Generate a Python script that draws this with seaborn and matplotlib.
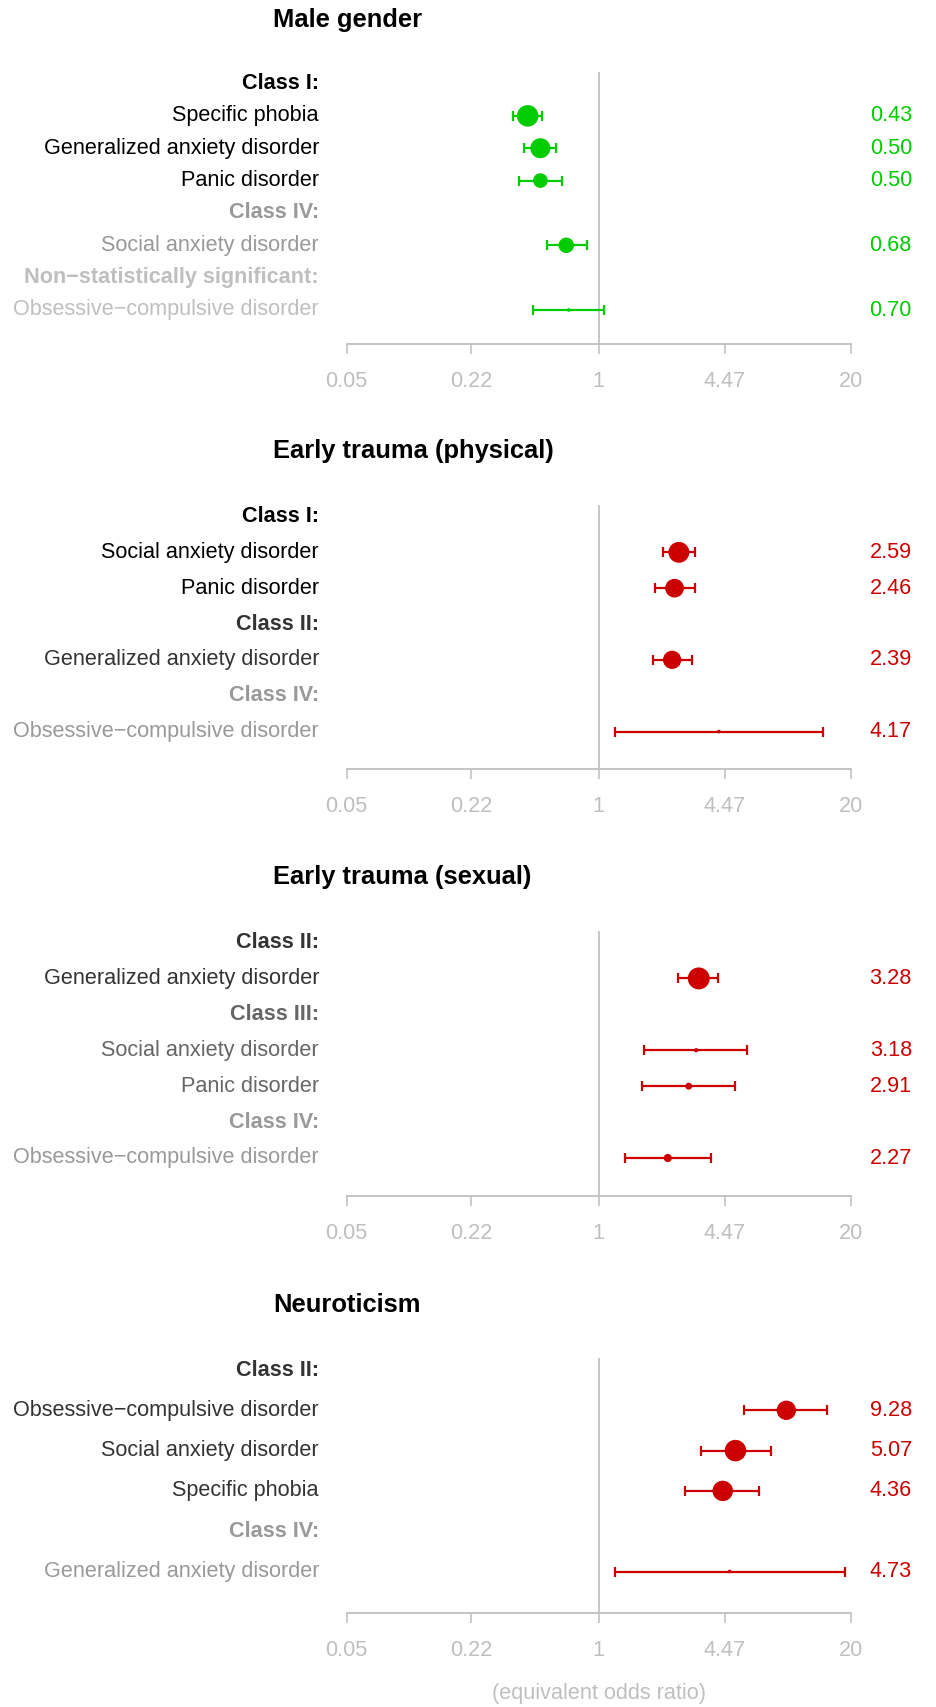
import numpy as np
import pandas as pd
import matplotlib
matplotlib.use("Agg")
import matplotlib.pyplot as plt
import matplotlib.transforms as mtransforms
import seaborn as sns

nan = np.nan

# ---------------- data ----------------
titles = ["Male gender", "Early trauma (physical)", "Early trauma (sexual)", "Neuroticism"]

male_labels = ["Class I:", "Specific phobia", "Generalized anxiety disorder", "Panic disorder",
               "Class IV:", "Social anxiety disorder", "Non\u2212statistically significant:",
               "Obsessive\u2212compulsive disorder"]
male_level = ["I", "I", "I", "I", "IV", "IV", "NS", "NS"]
male_header = [True, False, False, False, True, False, True, False]
male_or = [nan, 0.43, 0.50, 0.50, nan, 0.68, nan, 0.70]
male_lo = [nan, 0.36, 0.41, 0.39, nan, 0.54, nan, 0.46]
male_hi = [nan, 0.51, 0.60, 0.65, nan, 0.87, nan, 1.07]
male_w = [nan, 1.00, 0.93, 0.68, nan, 0.72, nan, 0.17]

phys_labels = ["Class I:", "Social anxiety disorder", "Panic disorder", "Class II:",
               "Generalized anxiety disorder", "Class IV:", "Obsessive\u2212compulsive disorder"]
phys_level = ["I", "I", "I", "II", "II", "IV", "IV"]
phys_header = [True, False, False, True, False, True, False]
phys_or = [nan, 2.59, 2.46, nan, 2.39, nan, 4.17]
phys_lo = [nan, 2.15, 1.94, nan, 1.90, nan, 1.21]
phys_hi = [nan, 3.12, 3.14, nan, 3.01, nan, 14.4]
phys_w = [nan, 0.97, 0.87, nan, 0.85, nan, 0.17]

sex_labels = ["Class II:", "Generalized anxiety disorder", "Class III:", "Social anxiety disorder",
              "Panic disorder", "Class IV:", "Obsessive\u2212compulsive disorder"]
sex_level = ["II", "II", "III", "III", "III", "IV", "IV"]
sex_header = [True, False, True, False, False, True, False]
sex_or = [nan, 3.28, nan, 3.18, 2.91, nan, 2.27]
sex_lo = [nan, 2.57, nan, 1.72, 1.67, nan, 1.37]
sex_hi = [nan, 4.14, nan, 5.82, 5.06, nan, 3.78]
sex_w = [nan, 1.02, nan, 0.20, 0.32, nan, 0.38]

neuro_labels = ["Class II:", "Obsessive\u2212compulsive disorder", "Social anxiety disorder",
                "Specific phobia", "Class IV:", "Generalized anxiety disorder"]
neuro_level = ["II", "II", "II", "II", "IV", "IV"]
neuro_header = [True, False, False, False, True, False]
neuro_or = [nan, 9.28, 5.07, 4.36, nan, 4.73]
neuro_lo = [nan, 5.62, 3.35, 2.80, nan, 1.21]
neuro_hi = [nan, 15.1, 7.69, 6.72, nan, 18.7]
neuro_w = [nan, 0.90, 1.00, 0.95, nan, 0.17]

tick_values = [0.05, 0.22, 1, 4.47, 20]
tick_labels = ["0.05", "0.22", "1", "4.47", "20"]
x_label = "(equivalent odds ratio)"

# ---------------- style ----------------
sns.set_theme(style="white")
plt.rcParams["font.family"] = ["Liberation Sans", "DejaVu Sans"]

level_color = {"I": "#000000", "II": "#333333", "III": "#666666", "IV": "#999999", "NS": "#BFBFBF"}
GREEN = "#00CD00"
RED = "#CD0000"
AXIS_GRAY = "#BFBFBF"
FS = 15.6
TFS = 18.4
BASE_DIAM_PX = 21.5

W, H = 936, 1707
fig = plt.figure(figsize=(W / 100, H / 100), dpi=100)

panels = [
    (male_labels, male_level, male_header, male_or, male_lo, male_hi, male_w),
    (phys_labels, phys_level, phys_header, phys_or, phys_lo, phys_hi, phys_w),
    (sex_labels, sex_level, sex_header, sex_or, sex_lo, sex_hi, sex_w),
    (neuro_labels, neuro_level, neuro_header, neuro_or, neuro_lo, neuro_hi, neuro_w),
]
# layout in pixels: (title_y, first_row_y, last_row_y, axis_y)
layout = [(20, 83.5, 310, 343.5),
          (451, 516.5, 731.5, 768.5),
          (877, 942.5, 1158, 1196),
          (1305, 1370, 1571.5, 1613)]

x_left_px, x_right_px = 346.5, 851
label_x_px = 319
value_x_px = 912
title_x_px = 273

for (labels, level, header, orv, lo, hi, wt), (ty, fy, ly, ay), title in zip(panels, layout, titles):
    n = len(labels)
    spacing = (ly - fy) / (n - 1)
    top_px = fy - 12
    ax = fig.add_axes([x_left_px / W, 1 - ay / H, (x_right_px - x_left_px) / W, (ay - top_px) / H])
    ax.set_xscale("log")
    ax.set_xlim(0.05, 20)
    ax.set_ylim((ay - fy) / spacing, -12 / spacing)
    ax.minorticks_off()
    ax.set_facecolor("none")
    for s in ["top", "right", "left"]:
        ax.spines[s].set_visible(False)
    ax.spines["bottom"].set_color(AXIS_GRAY)
    ax.spines["bottom"].set_linewidth(1.3)
    ax.set_xticks(tick_values)
    ax.set_xticklabels(tick_labels)
    ax.set_yticks([])
    ax.tick_params(axis="x", direction="out", length=7.5, width=1.1, color=AXIS_GRAY,
                   labelcolor=AXIS_GRAY, labelsize=FS, pad=12, bottom=True)
    ax.grid(False)
    ax.axvline(1, color="#B8B8B8", lw=1.1, zorder=0)

    df = pd.DataFrame({"label": labels, "level": level, "header": header,
                       "or": orv, "lo": lo, "hi": hi, "w": wt})
    df["pos"] = np.arange(n)
    d = df[~df["header"]].copy()
    cols = [GREEN if v < 1 else RED for v in d["or"]]

    for (_, r), c in zip(d.iterrows(), cols):
        ax.errorbar(r["or"], r["pos"], xerr=[[r["or"] - r["lo"]], [r["hi"] - r["or"]]],
                    fmt="none", ecolor=c, elinewidth=1.6, capsize=3.8, capthick=1.6,
                    zorder=2, clip_on=False)
    sizes = ((BASE_DIAM_PX * d["w"].values) / (100 / 72)) ** 2
    sns.scatterplot(x=d["or"].values, y=d["pos"].values, s=sizes, color=cols[0],
                    linewidth=0, ax=ax, legend=False, zorder=3, clip_on=False)

    trans = mtransforms.blended_transform_factory(fig.transFigure, ax.transData)
    for _, r in df.iterrows():
        ax.text(label_x_px / W, r["pos"], r["label"], transform=trans, ha="right", va="center",
                fontsize=FS, color=level_color[r["level"]],
                fontweight="bold" if r["header"] else "normal")
    for (_, r), c in zip(d.iterrows(), cols):
        ax.text(value_x_px / W, r["pos"], f"{r['or']:.2f}", transform=trans, ha="right",
                va="center", fontsize=FS, color=c)

    fig.text(title_x_px / W, 1 - ty / H, title, ha="left", va="center", fontsize=TFS,
             fontweight="bold", color="#000000")

fig.text(599 / W, 1 - 1693 / H, x_label, ha="center", va="center", fontsize=FS, color=AXIS_GRAY)

fig.savefig("out.png", dpi=100)
